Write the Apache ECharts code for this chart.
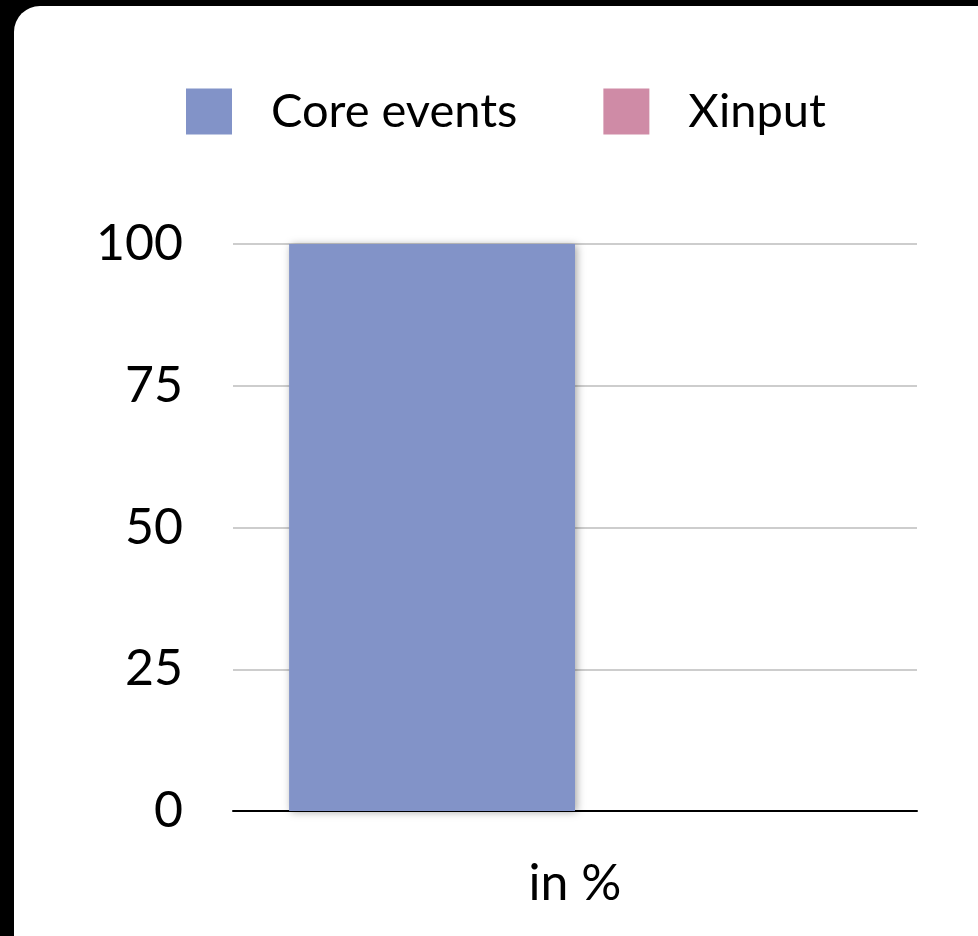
<!DOCTYPE html>
<html>
<head>
<meta charset="utf-8">
<script src="https://cdn.jsdelivr.net/npm/echarts@6/dist/echarts.min.js"></script>
<style>
  html, body { margin: 0; padding: 0; background: #000; }
  #chart { width: 978px; height: 936px; }
</style>
</head>
<body>
<div id="chart"></div>
<script>
// Share of input handled via each event path
const categories = ['in %'];
const seriesNames = ['Core events', 'Xinput'];
const coreEvents = [100];
const xinput = [0];
const yTicks = [0, 25, 50, 75, 100];

const FONT = 'Lato';
const chart = echarts.init(document.getElementById('chart'), null, { renderer: 'canvas' });

chart.setOption({
  backgroundColor: '#000',
  animation: false,
  graphic: [{
    type: 'rect',
    z: -10,
    shape: { x: 14, y: 6, width: 990, height: 960, r: 26 },
    style: { fill: '#fff' },
    silent: true
  }],
  legend: {
    left: 186,
    top: 88,
    padding: 0,
    itemWidth: 46,
    itemHeight: 46,
    itemGap: 86,
    icon: 'rect',
    textStyle: { fontFamily: FONT, fontSize: 47, color: '#000', padding: [0, 0, 0, 34] },
    data: seriesNames
  },
  grid: { left: 233, right: 61, top: 244, bottom: 125, containLabel: false },
  xAxis: {
    type: 'category',
    data: categories,
    axisLine: { lineStyle: { color: '#000', width: 2 } },
    axisTick: { show: false },
    axisLabel: { fontFamily: FONT, fontSize: 50, color: '#000', margin: 48 }
  },
  yAxis: {
    type: 'value',
    min: yTicks[0],
    max: yTicks[yTicks.length - 1],
    interval: 25,
    axisLine: { show: false },
    axisTick: { show: false },
    splitLine: { lineStyle: { color: '#bdbdbd', width: 1.5 } },
    axisLabel: { fontFamily: FONT, fontSize: 50, color: '#000', margin: 50 }
  },
  series: [
    {
      name: seriesNames[0],
      type: 'bar',
      data: coreEvents,
      barGap: '0%',
      barCategoryGap: '16.4%',
      itemStyle: {
        color: '#8293c8',
        shadowBlur: 8,
        shadowColor: 'rgba(0,0,0,0.35)',
        shadowOffsetX: 2,
        shadowOffsetY: 1
      }
    },
    {
      name: seriesNames[1],
      type: 'bar',
      data: xinput,
      barGap: '0%',
      barCategoryGap: '16.4%',
      itemStyle: { color: '#cf8ba6' }
    }
  ]
});
</script>
</body>
</html>
